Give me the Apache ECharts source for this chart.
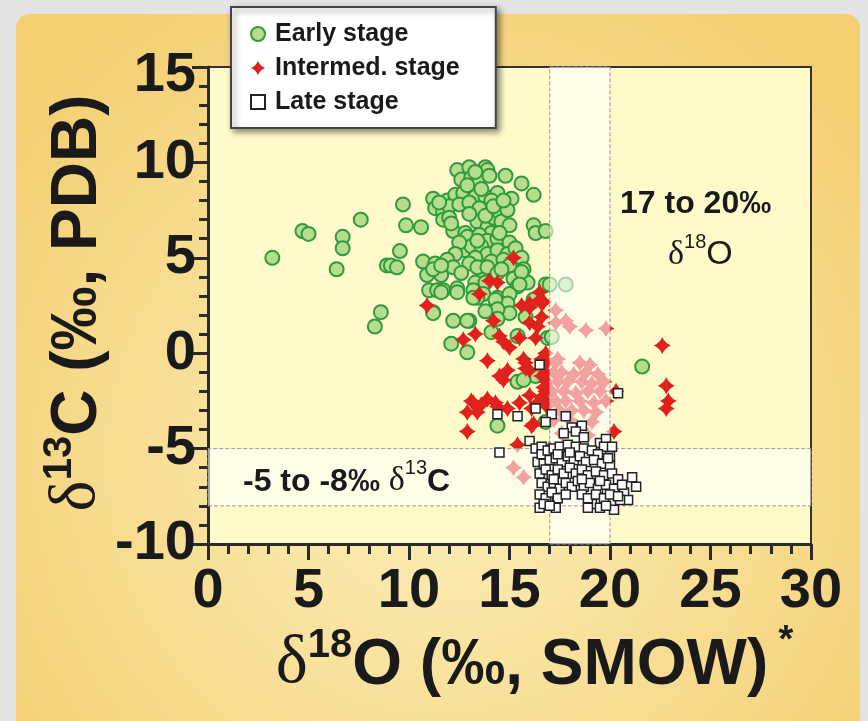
<!DOCTYPE html>
<html>
<head>
<meta charset="utf-8">
<script src="https://cdn.jsdelivr.net/npm/echarts@6/dist/echarts.min.js"></script>
<style>
html,body{margin:0;padding:0;background:#e4e4e4;}
#chart{width:868px;height:721px;}
</style>
</head>
<body>
<div id="chart"></div>
<script>
// δ18O (x), δ13C (y)
const earlyStage = [
[3.2,5.0],[4.7,6.4],[5.0,6.25],[6.7,6.1],[6.7,5.5],[6.4,4.4],[7.6,7.0],[9.7,7.8],[9.85,6.7],[10.6,6.6],
[9.55,5.35],[8.9,4.6],[9.1,4.6],[9.4,4.5],[8.6,2.15],[8.3,1.4],[11.2,2.15],[12.2,1.7],[13.0,1.7],[12.1,0.5],[12.9,0.05],
[12.4,9.6],[13.0,9.75],[13.8,9.75],[13.9,9.6],[14.8,9.3],[15.6,8.9],[16.2,8.3],
[11.2,8.1],[11.9,8.0],[11.3,7.6],[11.7,7.4],[12.3,8.3],[12.7,8.4],[13.2,8.6],[13.3,8.2],[13.8,8.2],[14.4,8.4],[15.1,8.1],
[12.6,9.1],[13.1,9.2],[13.5,9.0],[12.9,8.8],[13.6,8.6],[14.1,8.0],[12.0,7.7],[12.5,7.8],[13.0,7.9],[13.5,7.6],
[11.7,7.0],[12.0,7.1],[12.2,6.4],[12.8,6.3],[13.4,6.9],[13.9,6.6],[14.2,7.1],[14.5,7.4],[14.6,6.9],[14.9,7.5],[13.0,7.3],[13.8,7.2],[14.2,7.7],
[16.2,6.7],[16.3,6.3],[16.8,6.4],[11.5,7.9],[12.1,6.8],[14.0,9.3],[13.3,9.5],[14.7,8.0],[15.0,6.7],[14.1,6.3],
[12.9,6.1],[13.5,6.2],[13.9,5.9],[14.4,6.0],[14.5,6.3],[15.0,5.8],[12.8,5.4],[13.1,5.6],[13.6,5.6],[13.9,5.2],[14.4,5.4],[14.9,5.2],[13.3,5.0],[14.1,4.8],[12.5,5.8],[13.4,5.9],
[15.3,5.5],[15.6,5.0],[14.7,4.9],[12.3,5.2],[13.7,4.2],[15.0,4.6],
[10.7,4.8],[10.9,4.1],[11.3,4.7],[11.6,4.1],[11.9,4.9],[12.2,4.5],[11.0,3.3],[11.4,3.3],[11.7,3.3],[12.4,3.4],[13.0,4.7],[13.4,4.5],[13.9,4.5],[13.3,3.7],[13.8,3.7],
[14.4,4.2],[14.6,4.4],[15.2,3.9],[15.7,4.4],[15.9,3.7],[15.4,3.5],[11.2,4.4],[11.6,4.6],[12.6,4.2],[15.6,4.25],
[13.2,3.3],[13.7,3.1],[14.4,2.9],[15.0,3.1],[16.8,3.6],[13.4,2.9],[14.4,2.6],[14.9,2.6],[11.6,3.2],[12.4,3.2],[13.2,2.9],[15.0,2.1],[15.5,3.6],[16.2,2.8],[14.3,2.8],
[11.2,2.1],[12.9,1.7],[14.4,2.3],[14.4,1.8],[14.1,1.1],[15.4,0.9],[16.9,0.8],[15.8,1.9],[13.8,2.2],
[15.4,-1.5],[16.3,-1.2],[15.7,-1.4],[14.4,-3.8],[16.8,-3.6],[21.6,-0.7],
[17.0,3.6],[17.8,3.6],[17.1,0.85],[16.6,-6.1]
];
const intermedStage = [
[10.9,2.5],[12.7,0.7],[13.3,1.0],[13.5,3.1],[14.0,3.8],[14.4,3.7],[15.2,5.0],[16.5,3.2],[16.7,2.7],[16.6,2.6],
[15.6,2.5],[16.0,2.4],[14.2,1.7],[14.5,0.9],[14.7,0.6],[15.0,0.3],[15.5,0.8],[16.0,1.6],[16.4,1.4],[16.3,0.8],
[16.6,1.9],[16.5,2.8],[16.0,2.6],[13.9,-0.4],[15.7,-0.3],[15.8,-0.8],[14.5,-1.2],[14.9,-0.9],[14.7,-1.4],[15.8,-0.5],[16.0,-0.9],
[13.2,-2.6],[13.4,-3.1],[13.9,-2.4],[14.4,-2.8],[14.9,-2.9],[12.9,-3.1],[13.1,-2.5],[13.6,-2.7],[14.3,-2.6],
[15.5,-2.6],[16.0,-2.2],[16.4,-2.6],[16.8,-2.5],[16.1,-2.9],[16.2,-3.7],[12.9,-4.1],[15.4,-4.8],[16.1,-3.8],
[16.8,0.0],[16.85,-0.5],[16.8,-1.0],[16.85,-1.5],[16.8,-2.0],[16.6,-1.2],[16.6,-0.3],[16.7,-1.8],[16.6,-2.3],[16.85,-2.8],
[20.3,-2.0],[20.2,-4.1],[22.6,0.4],[22.8,-1.7],[22.9,-2.5],[22.8,-2.9],
[17.3,2.25],[17.8,1.7],[18.0,1.4],[18.8,1.2],[19.8,1.3],[17.3,1.6],[17.4,-0.3],
[17.3,-0.5],[18.5,-0.5],[19.0,-0.6],[17.2,-1.0],[17.6,-1.0],[18.2,-1.1],[18.8,-1.0],[19.4,-1.1],
[17.4,-1.5],[17.9,-1.5],[18.6,-1.5],[19.1,-1.6],[19.7,-1.5],[17.1,-2.0],[17.7,-2.0],[18.3,-2.1],[18.9,-2.0],[19.5,-2.0],
[17.3,-2.5],[17.8,-2.5],[18.5,-2.5],[19.2,-2.6],[19.8,-2.5],[17.5,-3.0],[18.1,-3.0],[18.7,-3.0],[19.3,-3.1],
[17.2,-3.5],[18.0,-3.5],[19.1,-3.6],[17.6,-4.2],[18.9,-4.3],[17.0,-5.0],[15.2,-6.0],[15.7,-6.5]
];
const lateStage = [
[16.5,-0.6],[14.4,-3.2],[15.4,-3.3],[16.3,-2.9],[17.1,-3.2],[17.8,-3.3],[16.8,-3.6],[20.4,-2.1],[14.5,-5.2],[18.1,-3.9],
[18.6,-3.8],[17.7,-4.2],[18.3,-4.1],[18.7,-4.4],[16.0,-4.6],[16.3,-5.0],[16.6,-4.9],[16.4,-5.7],[19.5,-4.7],[19.8,-4.5],
[19.7,-4.9],[20.1,-4.9],[20.0,-5.4],[21.1,-6.5],[21.3,-7.0],[20.7,-7.3],[20.9,-7.7],[20.5,-7.7],[16.5,-8.1],[16.9,-7.7],
[17.3,-8.1],[19.1,-7.9],[19.5,-8.1],[20.2,-8.2],
[16.6,-5.3],[16.9,-5.1],[17.2,-5.0],[17.5,-4.9],[17.9,-4.8],[18.3,-4.9],[18.7,-5.0],[19.1,-5.1],[19.4,-5.3],
[16.7,-5.8],[17.0,-5.6],[17.3,-5.5],[17.6,-5.7],[17.9,-5.4],[18.2,-5.6],[18.5,-5.4],[18.8,-5.7],[19.2,-5.6],[19.6,-5.8],[20.0,-5.9],
[16.5,-6.3],[16.8,-6.1],[17.1,-6.4],[17.4,-6.1],[17.7,-6.3],[18.0,-6.0],[18.3,-6.3],[18.6,-6.1],[18.9,-6.4],[19.3,-6.2],[19.7,-6.4],[20.1,-6.3],[20.4,-6.6],
[16.6,-6.8],[16.9,-7.0],[17.2,-6.8],[17.5,-7.1],[17.8,-6.8],[18.1,-7.0],[18.4,-6.7],[18.7,-7.0],[19.0,-6.8],[19.4,-7.1],[19.8,-6.9],[20.2,-7.1],[20.6,-6.9],
[16.5,-7.4],[16.8,-7.6],[17.1,-7.3],[17.4,-7.6],[17.8,-7.4],[18.6,-7.4],[18.9,-7.6],[19.3,-7.4],[19.7,-7.6],[20.0,-7.4],[20.4,-7.5],
[16.7,-7.9],[17.0,-8.0],[18.9,-8.1],[19.8,-8.0],[17.4,-5.3],[18.0,-5.2],[19.9,-5.5],[17.2,-6.6],[18.6,-6.6],[19.5,-6.7]
];
const o18Band = [17, 20];
const c13Band = [-8, -5];
const xRange = [0, 30, 5];
const yRange = [-10, 15, 5];

const crossPath = 'path://M0,-10 Q3,-3 10,0 Q3,3 0,10 Q-3,3 -10,0 Q-3,-3 0,-10 Z';
const axisColor = '#2b2b2b';
const labelFont = { fontSize: 56, fontWeight: 'bold', fontFamily: 'Liberation Sans, Arial, sans-serif', color: '#1a1a1a' };

const chart = echarts.init(document.getElementById('chart'));
chart.setOption({
  animation: false,
  backgroundColor: '#e4e4e4',
  graphic: [
    { type: 'rect', z: -10, shape: { x: 16, y: 14, width: 844, height: 720, r: 14 },
      style: { fill: { type: 'radial', x: 0.5, y: 0.62, r: 0.75,
        colorStops: [{ offset: 0, color: '#fcefbb' }, { offset: 1, color: '#f4cf72' }] } } },
    { type: 'text', z: 10, left: 620, top: 188,
      style: { text: '17 to 20‰', font: 'bold 32px "Liberation Sans", Arial, sans-serif', fill: '#1a1a1a' } },
    { type: 'text', z: 10, left: 668, top: 232,
      style: { text: '{d|δ}{s|18}{o|O}', rich: {
        d: { fontSize: 34, fontFamily: 'Liberation Serif, serif', fill: '#1a1a1a', lineHeight: 40, verticalAlign: 'bottom' },
        s: { fontSize: 20, fontFamily: 'Liberation Sans, Arial, sans-serif', fill: '#1a1a1a', verticalAlign: 'top', lineHeight: 40 },
        o: { fontSize: 34, fontFamily: 'Liberation Sans, Arial, sans-serif', fill: '#1a1a1a', lineHeight: 40, verticalAlign: 'bottom' }
      } } },
    { type: 'text', z: 10, left: 243, top: 458,
      style: { text: '{b|-5 to -8‰ }{d|δ}{s|13}{c|C}', rich: {
        b: { fontSize: 32, fontWeight: 'bold', fontFamily: 'Liberation Sans, Arial, sans-serif', fill: '#1a1a1a', lineHeight: 40, verticalAlign: 'bottom' },
        d: { fontSize: 34, fontFamily: 'Liberation Serif, serif', fill: '#1a1a1a', lineHeight: 40, verticalAlign: 'bottom' },
        s: { fontSize: 20, fontFamily: 'Liberation Sans, Arial, sans-serif', fill: '#1a1a1a', verticalAlign: 'top', lineHeight: 40 },
        c: { fontSize: 32, fontWeight: 'bold', fontFamily: 'Liberation Sans, Arial, sans-serif', fill: '#1a1a1a', lineHeight: 40, verticalAlign: 'bottom' }
      } } },
    { type: 'text', z: 10, x: 75, y: 303, rotation: Math.PI / 2,
      style: { text: '{d|δ}{s|13}{b|C (‰, PDB)}', align: 'center', verticalAlign: 'middle', rich: {
        d: { fontSize: 66, fontFamily: 'Liberation Serif, serif', fill: '#1a1a1a', lineHeight: 70, verticalAlign: 'bottom' },
        s: { fontSize: 40, fontWeight: 'bold', fontFamily: 'Liberation Sans, Arial, sans-serif', fill: '#1a1a1a', lineHeight: 70, verticalAlign: 'top' },
        b: { fontSize: 64, fontWeight: 'bold', fontFamily: 'Liberation Sans, Arial, sans-serif', fill: '#1a1a1a', lineHeight: 70, verticalAlign: 'bottom' }
      } } },
    { type: 'text', z: 10, x: 522, y: 662,
      style: { text: '{d|δ}{s|18}{b|O (‰, SMOW)}', align: 'center', verticalAlign: 'middle', rich: {
        d: { fontSize: 68, fontFamily: 'Liberation Serif, serif', fill: '#1a1a1a', lineHeight: 72, verticalAlign: 'bottom' },
        s: { fontSize: 40, fontWeight: 'bold', fontFamily: 'Liberation Sans, Arial, sans-serif', fill: '#1a1a1a', lineHeight: 72, verticalAlign: 'top' },
        b: { fontSize: 64, fontWeight: 'bold', fontFamily: 'Liberation Sans, Arial, sans-serif', fill: '#1a1a1a', lineHeight: 72, verticalAlign: 'bottom' }
      } } },
    { type: 'text', z: 10, x: 786, y: 642,
      style: { text: '*', align: 'center', verticalAlign: 'middle', font: 'bold 38px "Liberation Sans", Arial, sans-serif', fill: '#1a1a1a' } }
  ],
  grid: { left: 208, top: 67, width: 603, height: 477, show: true,
    backgroundColor: '#fffac9', borderColor: '#333', borderWidth: 2 },
  legend: {
    data: ['Early stage', 'Intermed. stage', 'Late stage'],
    orient: 'vertical', left: 231, top: 7,
    padding: [13, 36, 12, 19], itemGap: 6, itemWidth: 14, itemHeight: 14,
    backgroundColor: '#ffffff', borderColor: '#444', borderWidth: 2,
    shadowBlur: 6, shadowColor: 'rgba(0,0,0,0.45)', shadowOffsetX: 3, shadowOffsetY: 3,
    textStyle: { fontSize: 25, fontWeight: 'bold', fontFamily: 'Liberation Sans, Arial, sans-serif', color: '#1a1a1a', lineHeight: 28, padding: [0, 0, 0, 5] }
  },
  xAxis: {
    type: 'value', min: xRange[0], max: xRange[1], interval: xRange[2],
    splitLine: { show: false },
    axisLine: { onZero: false, lineStyle: { color: axisColor, width: 3 } },
    axisTick: { length: 16, lineStyle: { color: axisColor, width: 3 } },
    minorTick: { show: true, splitNumber: 5, length: 10, lineStyle: { color: axisColor, width: 3 } },
    axisLabel: Object.assign({ margin: 20 }, labelFont)
  },
  yAxis: {
    type: 'value', min: yRange[0], max: yRange[1], interval: yRange[2],
    splitLine: { show: false },
    axisLine: { onZero: false, lineStyle: { color: axisColor, width: 3 } },
    axisTick: { length: 16, lineStyle: { color: axisColor, width: 3 } },
    minorTick: { show: true, splitNumber: 5, length: 9, lineStyle: { color: axisColor, width: 3 } },
    axisLabel: Object.assign({ margin: 12,
      formatter: v => v === yRange[1] ? '{t|' + v + '}' : String(v),
      rich: { t: Object.assign({ padding: [18, 0, 0, 0] }, labelFont) } }, labelFont)
  },
  series: [
    { name: 'Early stage', type: 'scatter', z: 2, data: earlyStage, symbol: 'circle', symbolSize: 14,
      itemStyle: { color: '#b6dd8d', borderColor: '#2f9b3c', borderWidth: 2, opacity: 1 } },
    { name: 'Intermed. stage', type: 'scatter', z: 2, data: intermedStage, symbol: crossPath, symbolSize: 17,
      itemStyle: { color: '#e0211d', opacity: 1 } },
    { name: 'bands', type: 'scatter', z: 3, data: [],
      markArea: { silent: true, z: 3,
        itemStyle: { color: 'rgba(255,255,255,0.58)', borderColor: '#9a9a9a', borderWidth: 1, borderType: 'dashed' },
        data: [
          [{ xAxis: o18Band[0], yAxis: yRange[0] }, { xAxis: o18Band[1], yAxis: yRange[1] }],
          [{ xAxis: xRange[0], yAxis: c13Band[0] }, { xAxis: xRange[1], yAxis: c13Band[1] }]
        ] } },
    { name: 'Late stage', type: 'scatter', z: 4, data: lateStage, symbol: 'rect', symbolSize: 9,
      itemStyle: { color: '#ffffff', borderColor: '#222', borderWidth: 1.5, opacity: 1 } }
  ]
});
</script>
</body>
</html>
